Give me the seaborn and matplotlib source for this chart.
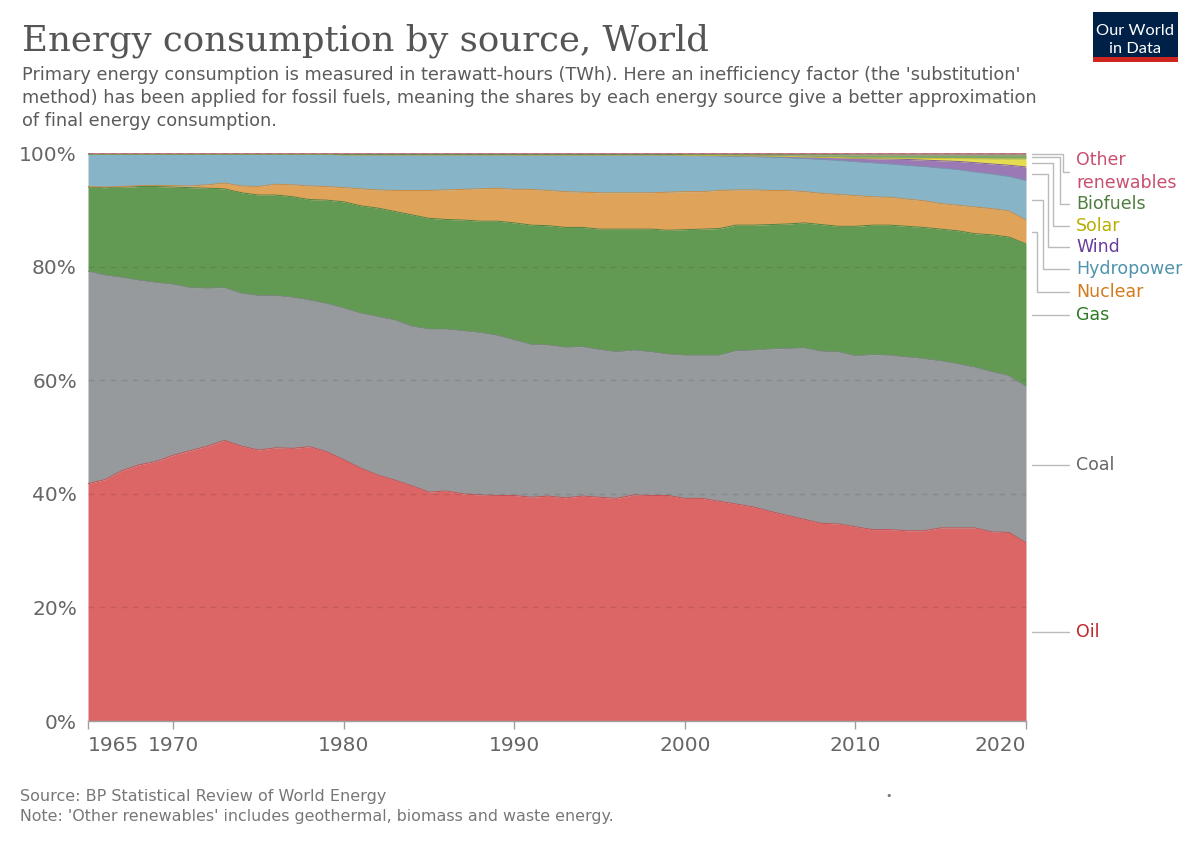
import matplotlib
matplotlib.use("Agg")
import matplotlib.pyplot as plt
import matplotlib.transforms as mtransforms
from matplotlib.patches import Rectangle
import numpy as np
import pandas as pd
import seaborn as sns

# ---------------- data (share of primary energy, %) ----------------
years = list(range(1965, 2021))

oil = [41.8, 42.5, 44.1, 45.1, 45.7, 46.8, 47.6, 48.4, 49.4, 48.4,
       47.7, 48.1, 48.0, 48.3, 47.4, 46.0, 44.5, 43.3, 42.4, 41.4,
       40.3, 40.5, 40.0, 39.8, 39.7, 39.7, 39.4, 39.6, 39.3, 39.6,
       39.4, 39.2, 39.8, 39.7, 39.7, 39.2, 39.2, 38.7, 38.2, 37.7,
       36.9, 36.2, 35.5, 34.8, 34.7, 34.2, 33.7, 33.7, 33.5, 33.5,
       34.0, 34.0, 34.0, 33.3, 33.2, 31.4]
coal = [37.4, 36.0, 34.0, 32.5, 31.5, 30.1, 28.7, 27.8, 26.9, 26.9,
        27.2, 26.8, 26.6, 25.8, 26.1, 26.7, 27.3, 27.9, 28.2, 28.1,
        28.7, 28.5, 28.7, 28.6, 28.2, 27.4, 26.9, 26.6, 26.5, 26.3,
        26.0, 25.8, 25.5, 25.3, 24.9, 25.2, 25.2, 25.7, 27.0, 27.6,
        28.6, 29.4, 30.2, 30.3, 30.3, 30.1, 30.8, 30.7, 30.6, 30.3,
        29.4, 28.9, 28.3, 28.2, 27.6, 27.5]
gas = [14.8, 15.4, 15.9, 16.5, 16.9, 17.1, 17.6, 17.6, 17.4, 17.7,
       17.7, 17.7, 17.7, 17.7, 18.2, 18.7, 18.9, 19.1, 19.1, 19.6,
       19.5, 19.3, 19.5, 19.6, 20.1, 20.6, 21.0, 21.0, 21.1, 21.0,
       21.2, 21.6, 21.3, 21.6, 21.8, 22.1, 22.2, 22.3, 22.1, 22.0,
       21.9, 21.9, 22.0, 22.3, 22.1, 22.8, 22.8, 22.9, 23.0, 23.1,
       23.2, 23.4, 23.5, 24.1, 24.4, 25.1]
nuclear = [0.1, 0.1, 0.1, 0.15, 0.2, 0.25, 0.3, 0.6, 1.0, 1.2,
           1.5, 1.9, 2.1, 2.4, 2.4, 2.5, 3.0, 3.2, 3.7, 4.3,
           4.9, 5.2, 5.4, 5.7, 5.8, 5.9, 6.3, 6.2, 6.3, 6.2,
           6.4, 6.4, 6.4, 6.4, 6.7, 6.7, 6.6, 6.7, 6.2, 6.2,
           6.0, 5.9, 5.5, 5.5, 5.6, 5.4, 5.0, 4.9, 4.8, 4.7,
           4.5, 4.5, 4.7, 4.6, 4.6, 4.2]
hydropower = [5.7, 5.8, 5.7, 5.55, 5.5, 5.55, 5.6, 5.4, 5.1, 5.6,
              5.7, 5.27, 5.37, 5.57, 5.67, 5.77, 5.97, 6.17, 6.27, 6.27,
              6.27, 6.17, 6.07, 5.97, 5.87, 6.05, 6.05, 6.25, 6.45, 6.55,
              6.65, 6.63, 6.63, 6.63, 6.51, 6.33, 6.29, 6.05, 5.89, 5.83,
              5.85, 5.74, 5.81, 5.94, 5.98, 5.95, 5.95, 5.85, 5.92, 6.0,
              6.23, 6.27, 6.15, 6.07, 6.05, 6.95]
wind = [0, 0, 0, 0, 0, 0, 0, 0, 0, 0,
        0, 0, 0, 0, 0, 0, 0, 0, 0, 0,
        0, 0, 0, 0, 0, 0, 0, 0, 0, 0,
        0, 0.02, 0.02, 0.02, 0.04, 0.05, 0.08, 0.1, 0.13, 0.17,
        0.2, 0.26, 0.32, 0.4, 0.5, 0.6, 0.75, 0.9, 1.05, 1.15,
        1.3, 1.45, 1.65, 1.8, 2.0, 2.4]
solar = [0, 0, 0, 0, 0, 0, 0, 0, 0, 0,
         0, 0, 0, 0, 0, 0, 0, 0, 0, 0,
         0, 0, 0, 0, 0, 0, 0, 0, 0, 0,
         0, 0, 0, 0, 0, 0, 0, 0, 0, 0,
         0, 0, 0, 0.01, 0.02, 0.05, 0.1, 0.15, 0.2, 0.3,
         0.4, 0.5, 0.7, 0.9, 1.1, 1.4]
biofuels = [0, 0, 0, 0, 0, 0, 0, 0, 0, 0,
            0, 0.03, 0.03, 0.03, 0.03, 0.08, 0.08, 0.08, 0.08, 0.08,
            0.08, 0.08, 0.08, 0.08, 0.08, 0.1, 0.1, 0.1, 0.1, 0.1,
            0.1, 0.1, 0.1, 0.1, 0.1, 0.12, 0.13, 0.15, 0.18, 0.2,
            0.25, 0.3, 0.37, 0.45, 0.5, 0.55, 0.55, 0.55, 0.58, 0.6,
            0.62, 0.63, 0.65, 0.68, 0.7, 0.7]
other_renewables = [0.2, 0.2, 0.2, 0.2, 0.2, 0.2, 0.2, 0.2, 0.2, 0.2,
                    0.2, 0.2, 0.2, 0.2, 0.2, 0.25, 0.25, 0.25, 0.25, 0.25,
                    0.25, 0.25, 0.25, 0.25, 0.25, 0.25, 0.25, 0.25, 0.25, 0.25,
                    0.25, 0.25, 0.25, 0.25, 0.25, 0.3, 0.3, 0.3, 0.3, 0.3,
                    0.3, 0.3, 0.3, 0.3, 0.3, 0.35, 0.35, 0.35, 0.35, 0.35,
                    0.35, 0.35, 0.35, 0.35, 0.35, 0.35]

sources = ["Oil", "Coal", "Gas", "Nuclear", "Hydropower", "Wind", "Solar",
           "Biofuels", "Other renewables"]
series = [oil, coal, gas, nuclear, hydropower, wind, solar, biofuels, other_renewables]

fill_colors = ["#dc6566", "#969a9d", "#629a54", "#e0a35a", "#87b4c6",
               "#9b79b5", "#e6dc50", "#7ea76c", "#e2919f"]
edge_colors = ["#c55354", "#808487", "#4f8443", "#c98c45", "#6e9cae",
               "#82619d", "#cfc43c", "#668f55", "#cc7888"]
label_colors = ["#c0272d", "#666666", "#2d7a22", "#d27a1e", "#4e92ab",
                "#6a3d9a", "#b7af00", "#4e7e3e", "#c8506e"]

ticks_x = [1965, 1970, 1980, 1990, 2000, 2010, 2020]
ticks_y = [0, 20, 40, 60, 80, 100]

# ---------------- style ----------------
sns.set_theme(style="white")
plt.rcParams["font.family"] = ["DejaVu Sans"]

W, H = 1200, 847
fig = plt.figure(figsize=(W / 100, H / 100), dpi=100)
fig.patch.set_facecolor("white")

L, R, T, B = 88, 1026, 153, 721
ax = fig.add_axes([L / W, 1 - B / H, (R - L) / W, (B - T) / H])

df = pd.DataFrame({"year": years})
for name, vals in zip(sources, series):
    df[name] = vals

ax.stackplot(df["year"], *[df[s] for s in sources],
             colors=fill_colors, linewidth=0)

# top boundary lines of each layer, drawn with seaborn
cum = df[sources].cumsum(axis=1)
cum["year"] = df["year"]
long = cum.melt(id_vars="year", var_name="source", value_name="top")
sns.lineplot(data=long, x="year", y="top", hue="source", hue_order=sources,
             palette=dict(zip(sources, edge_colors)), linewidth=0.7,
             legend=False, ax=ax, estimator=None)

ax.set_xlim(1965, 2020)
ax.set_ylim(0, 100)
ax.set_xlabel("")
ax.set_ylabel("")

ax.set_yticks(ticks_y)
ax.set_yticklabels([f"{v}%" for v in ticks_y])
for v in ticks_y[1:]:
    ax.axhline(v, color="black", alpha=0.1, lw=1, ls=(0, (4, 4)), zorder=5)

ax.set_xticks(ticks_x)
ax.set_xticklabels([str(v) for v in ticks_x])
for s in ["top", "right", "left"]:
    ax.spines[s].set_visible(False)
ax.spines["bottom"].set_color("#a0a0a0")
ax.spines["bottom"].set_linewidth(1)
ax.spines["bottom"].set_zorder(6)
ax.tick_params(axis="x", length=6, width=1, color="#a0a0a0", direction="out",
               labelsize=14.5, labelcolor="#666666", pad=5, bottom=True)
ax.tick_params(axis="y", length=0, labelsize=14.5, labelcolor="#666666", pad=8)
xl = ax.get_xticklabels()
xl[0].set_ha("left")
xl[-1].set_ha("right")

# ---------------- right-hand labels with leader lines ----------------
trans = mtransforms.blended_transform_factory(ax.transAxes, ax.transData)
def fx(px):
    return (px - L) / (R - L)

tops = cum[sources].iloc[-1]
mids = {}
prev = 0.0
for s in sources:
    mids[s] = (prev + tops[s]) / 2
    prev = tops[s]

line_col = "#bbbbbb"
x0, x_end, x_text = fx(1032), fx(1069), fx(1076)

for s in ["Gas", "Coal", "Oil"]:
    y = mids[s]
    ax.plot([x0, x_end], [y, y], transform=trans, color=line_col, lw=1,
            clip_on=False)
    ax.text(x_text, y, s, transform=trans, va="center", ha="left",
            fontsize=12.5, color=label_colors[sources.index(s)])

elbow = {"Other renewables": (1063, 96.7), "Biofuels": (1060, 91.1),
         "Solar": (1053, 87.1), "Wind": (1048, 83.4),
         "Hydropower": (1043, 79.6), "Nuclear": (1037, 75.6)}
for s, (ex, ly) in elbow.items():
    y = mids[s]
    ax.plot([x0, fx(ex), fx(ex), x_end], [y, y, ly, ly], transform=trans,
            color=line_col, lw=1, clip_on=False)
    txt = "Other\nrenewables" if s == "Other renewables" else s
    ax.text(x_text, ly, txt, transform=trans, va="center", ha="left",
            fontsize=12.5, color=label_colors[sources.index(s)],
            linespacing=1.35)

# ---------------- titles ----------------
fig.text(22 / W, 1 - 50 / H, "Energy consumption by source, World",
         fontsize=25.6, family=["DejaVu Serif"],
         color="#555555", va="baseline", ha="left")
sub = ["Primary energy consumption is measured in terawatt-hours (TWh). Here an inefficiency factor (the 'substitution'",
       "method) has been applied for fossil fuels, meaning the shares by each energy source give a better approximation",
       "of final energy consumption."]
for i, line in enumerate(sub):
    fig.text(22 / W, 1 - (80 + 23 * i) / H, line, fontsize=12.8,
             color="#5b5b5b", va="baseline", ha="left")

fig.text(20 / W, 1 - 801 / H, "Source: BP Statistical Review of World Energy",
         fontsize=11.5, color="#777777", va="baseline", ha="left")
fig.text(20 / W, 1 - 821 / H,
         "Note: 'Other renewables' includes geothermal, biomass and waste energy.",
         fontsize=11.4, color="#777777", va="baseline", ha="left")
fig.text(889 / W, 1 - 796 / H, "•", fontsize=8, color="#777777",
         va="center", ha="center")

# ---------------- logo ----------------
lx, ly_, lw_, lh = 1093, 12, 85, 50
fig.patches.append(Rectangle((lx / W, 1 - (ly_ + lh) / H), lw_ / W, lh / H,
                             transform=fig.transFigure, facecolor="#002147",
                             edgecolor="none"))
fig.patches.append(Rectangle((lx / W, 1 - (ly_ + lh) / H), lw_ / W, 5 / H,
                             transform=fig.transFigure, facecolor="#ce261e",
                             edgecolor="none"))
fig.text((lx + lw_ / 2) / W, 1 - 31 / H, "Our World", fontsize=11.8,
         family=["Lato", "DejaVu Sans"], color="white", ha="center", va="center")
fig.text((lx + lw_ / 2) / W, 1 - 49 / H, "in Data", fontsize=11.8,
         family=["Lato", "DejaVu Sans"], color="white", ha="center", va="center")

fig.savefig("out.png", dpi=100, facecolor="white")
